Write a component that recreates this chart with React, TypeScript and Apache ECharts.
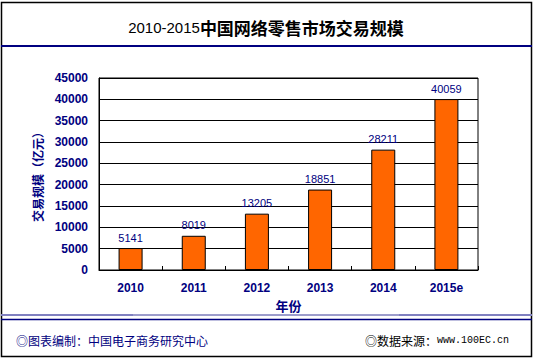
import React, { useEffect, useRef } from "react";
import * as echarts from "echarts";

const categories = ["2010", "2011", "2012", "2013", "2014", "2015e"];
const values = [5141, 8019, 13205, 18851, 28211, 40059];
const titleNum = "2010-2015";
const titleText = "中国网络零售市场交易规模";
const yName = "交易规模（亿元）";
const xName = "年份";
const footLeft = "◎图表编制：中国电子商务研究中心";
const footRightCn = "◎数据来源：";
const footRightUrl = "www.100EC.cn";

const NAVY = "#000080";

export default function App() {
  const ref = useRef<HTMLDivElement>(null);
  useEffect(() => {
    document.body.style.margin = "0";
    const chart = echarts.init(ref.current!, null, { renderer: "svg" });
    chart.setOption({
      animation: false,
      backgroundColor: "#ffffff",
      grid: {
        left: 99,
        right: 55,
        top: 78,
        bottom: 89,
        show: true,
        borderColor: "#000",
        borderWidth: 1,
      },
      xAxis: {
        type: "category",
        data: categories,
        axisLine: { lineStyle: { color: "#000", width: 1 } },
        axisTick: { show: true, inside: true, length: 4, lineStyle: { color: "#000" } },
        axisLabel: {
          color: NAVY,
          fontWeight: "bold",
          fontSize: 12,
          fontFamily: "Liberation Sans, Arial, sans-serif",
          margin: 12,
        },
        name: xName,
        nameLocation: "middle",
        nameGap: 29,
        nameTextStyle: {
          color: NAVY,
          fontWeight: "bold",
          fontSize: 13,
          fontFamily: "Noto Sans CJK SC, sans-serif",
        },
      },
      yAxis: {
        type: "value",
        min: 0,
        max: 45000,
        interval: 5000,
        axisLine: { show: true, lineStyle: { color: "#000", width: 1 } },
        axisTick: { show: false },
        splitLine: { lineStyle: { color: "#000", width: 1 } },
        axisLabel: {
          color: NAVY,
          fontWeight: "bold",
          fontSize: 12,
          fontFamily: "Liberation Sans, Arial, sans-serif",
          margin: 11,
          formatter: (v: number) => String(v),
        },
        name: yName,
        nameLocation: "middle",
        nameRotate: 90,
        nameGap: 42,
        nameTextStyle: {
          color: NAVY,
          fontWeight: "bold",
          fontSize: 12,
          fontFamily: "Noto Sans CJK SC, sans-serif",
        },
      },
      series: [
        {
          type: "bar",
          data: values,
          barWidth: 24,
          itemStyle: { color: "#FF6600", borderColor: "#000", borderWidth: 1 },
          label: {
            show: true,
            position: "top",
            distance: 5,
            color: NAVY,
            fontSize: 11,
            fontFamily: "Liberation Sans, Arial, sans-serif",
          },
        },
      ],
      graphic: [
        {
          type: "rect",
          shape: { x: 1.5, y: 2.5, width: 530, height: 354 },
          style: { fill: "none", stroke: "#000", lineWidth: 1.5 },
          silent: true,
        },
        {
          type: "line",
          shape: { x1: 1, y1: 46, x2: 532, y2: 46 },
          style: { stroke: NAVY, lineWidth: 2 },
        },
        {
          type: "text",
          x: 266,
          y: 27,
          style: {
            text: "{a|" + titleNum + "}{b|" + titleText + "}",
            align: "center",
            verticalAlign: "middle",
            rich: {
              a: { fontSize: 15, color: NAVY, fontFamily: "Liberation Sans, Arial, sans-serif" },
              b: { fontSize: 17, fontWeight: "bold", color: NAVY, fontFamily: "Noto Sans CJK SC, sans-serif" },
            },
          },
        },
        {
          type: "line",
          shape: { x1: 1, y1: 315, x2: 133, y2: 315 },
          style: { stroke: "#8080C0", lineWidth: 2 },
        },
        {
          type: "line",
          shape: { x1: 133, y1: 315, x2: 399, y2: 315 },
          style: { stroke: "#3A3A98", lineWidth: 1 },
        },
        {
          type: "line",
          shape: { x1: 399, y1: 315, x2: 532, y2: 315 },
          style: { stroke: "#8080C0", lineWidth: 2 },
        },
        {
          type: "line",
          shape: { x1: 1, y1: 319.5, x2: 532, y2: 319.5 },
          style: { stroke: NAVY, lineWidth: 1.5 },
        },
        {
          type: "text",
          x: 16,
          y: 340,
          style: {
            text: footLeft,
            fontSize: 12,
            fill: NAVY,
            fontFamily: "Noto Sans CJK SC, sans-serif",
            verticalAlign: "middle",
          },
        },
        {
          type: "text",
          x: 365,
          y: 340,
          style: {
            text: "{a|" + footRightCn + "}{b|" + footRightUrl + "}",
            verticalAlign: "middle",
            rich: {
              a: { fontSize: 12, color: NAVY, fontFamily: "Noto Sans CJK SC, sans-serif" },
              b: { fontSize: 10, color: NAVY, fontFamily: "Liberation Mono, monospace" },
            },
          },
        },
      ],
    });
    return () => chart.dispose();
  }, []);
  return <div ref={ref} style={{ width: 533, height: 359 }} />;
}
